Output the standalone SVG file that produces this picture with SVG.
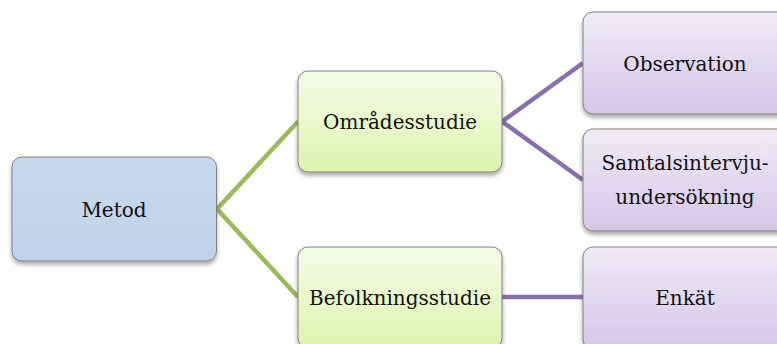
<svg xmlns="http://www.w3.org/2000/svg" width="777" height="344" viewBox="0 0 777 344">
<style>
.node{stroke:#808080;stroke-width:1}
.lbl{font-family:"DejaVu Serif","Liberation Serif",serif;font-size:20px;fill:#111;text-anchor:middle}
.cg{stroke:#9bbb59;stroke-width:4.5;fill:none;stroke-linejoin:miter}
.cp{stroke:#8a6fae;stroke-width:4.5;fill:none;stroke-linejoin:miter}
</style>
<defs>
<linearGradient id="gb" x1="0" y1="0" x2="0" y2="1"><stop offset="0" stop-color="#c7d9ee"/><stop offset="1" stop-color="#bfd2e9"/></linearGradient>
<linearGradient id="gg" x1="0" y1="0" x2="0" y2="1"><stop offset="0" stop-color="#f5fbe9"/><stop offset="1" stop-color="#ddf4ae"/></linearGradient>
<linearGradient id="gp" x1="0" y1="0" x2="0" y2="1"><stop offset="0" stop-color="#f0ebf6"/><stop offset="1" stop-color="#d5c6e8"/></linearGradient>
<filter id="sh" x="-10%" y="-10%" width="120%" height="130%"><feDropShadow dx="0" dy="3" stdDeviation="2" flood-color="#000" flood-opacity="0.35"/></filter>
</defs>
<g id="connectors">
<polyline class="cg" points="298,121.5 217,209 298,297"/>
<polyline class="cp" points="583,63 502,121.5 583,180"/>
<line class="cp" x1="502" y1="297" x2="583" y2="297"/>
</g>
<g id="metod"><rect class="node" x="12" y="157" width="204.5" height="104" rx="10" fill="url(#gb)" filter="url(#sh)"/><text class="lbl" x="114" y="216.5">Metod</text></g>
<g id="omradesstudie"><rect class="node" x="298" y="71" width="204" height="101" rx="10" fill="url(#gg)" filter="url(#sh)"/><text class="lbl" x="400" y="129">Områdesstudie</text></g>
<g id="befolkningsstudie"><rect class="node" x="298" y="247" width="204" height="101" rx="10" fill="url(#gg)" filter="url(#sh)"/><text class="lbl" x="400" y="304.5">Befolkningsstudie</text></g>
<g id="observation"><rect class="node" x="583" y="12" width="210" height="102" rx="10" fill="url(#gp)" filter="url(#sh)"/><text class="lbl" x="685" y="71">Observation</text></g>
<g id="samtalsintervju"><rect class="node" x="583" y="129" width="210" height="102" rx="10" fill="url(#gp)" filter="url(#sh)"/><text class="lbl" x="685" y="170">Samtalsintervju-</text><text class="lbl" x="685" y="204">undersökning</text></g>
<g id="enkat"><rect class="node" x="583" y="247" width="210" height="102" rx="10" fill="url(#gp)" filter="url(#sh)"/><text class="lbl" x="685" y="304.5">Enkät</text></g>
</svg>
